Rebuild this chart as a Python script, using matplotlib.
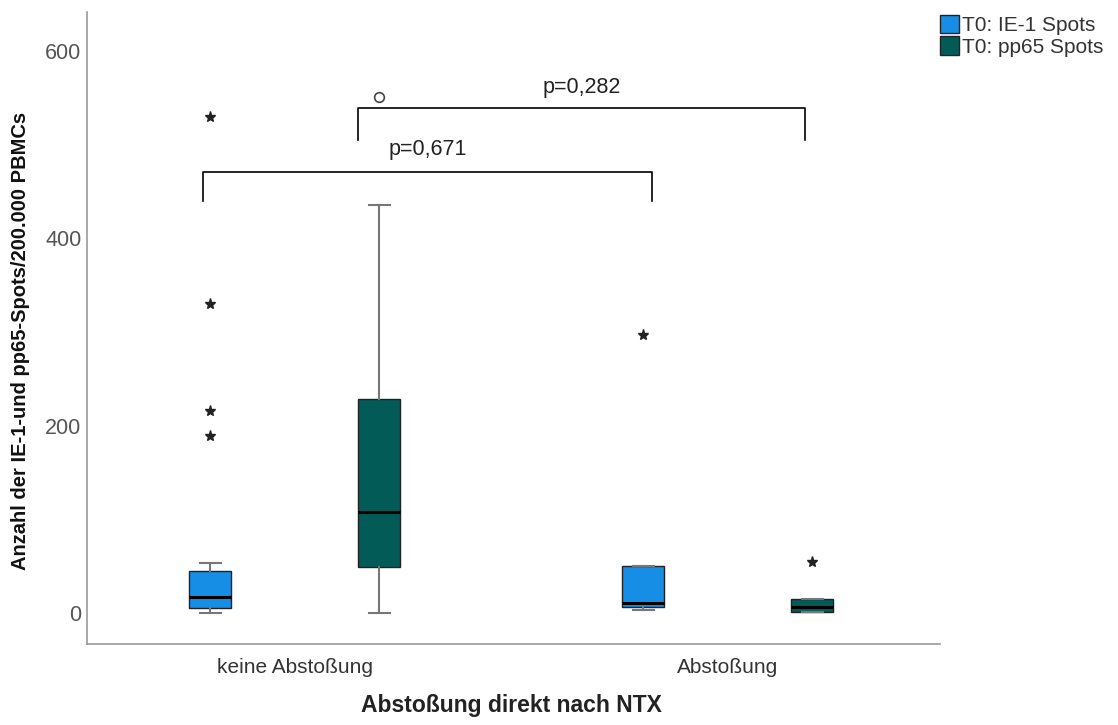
import matplotlib
matplotlib.use("Agg")
import matplotlib.pyplot as plt
from matplotlib.patches import Patch

plt.rcParams["font.family"] = ["Liberation Sans", "DejaVu Sans"]

groups = ["keine Abstoßung", "Abstoßung"]
series = ["T0: IE-1 Spots", "T0: pp65 Spots"]
colors = ["#178ee6", "#035b58"]

# box statistics per series, per group: [whislo, q1, med, q3, whishi]
ie1_stats = [[0, 5, 17, 45, 53], [3, 6, 11, 50, 50]]
pp65_stats = [[0, 49, 108, 228, 435], [1, 1, 6, 15, 15]]
# extreme outliers (stars) and outliers (circles)
ie1_stars = [[529, 330, 215, 189], [297]]
pp65_stars = [[], [54]]
ie1_circles = [[], []]
pp65_circles = [[551], []]

p_labels = ["p=0,671", "p=0,282"]
yticks = [0, 200, 400, 600]

fig = plt.figure(figsize=(11.18, 7.25), dpi=100)
ax = fig.add_axes([0.0778, 0.112, 0.763, 0.871])

offsets = [-0.195, 0.195]
width = 0.097
all_stats = [ie1_stats, pp65_stats]
all_stars = [ie1_stars, pp65_stars]
all_circles = [ie1_circles, pp65_circles]

for si in range(2):
    for gi in range(2):
        lo, q1, med, q3, hi = all_stats[si][gi]
        pos = gi + offsets[si]
        st = dict(whislo=lo, q1=q1, med=med, q3=q3, whishi=hi, fliers=[])
        ax.bxp([st], positions=[pos], widths=width, patch_artist=True,
               showfliers=False,
               boxprops=dict(facecolor=colors[si], edgecolor="#222222", linewidth=1.0),
               medianprops=dict(color="black", linewidth=2.2),
               whiskerprops=dict(color="#777777", linewidth=1.5),
               capprops=dict(color="#777777", linewidth=1.5),
               capwidths=width * 0.5)
        s = all_stars[si][gi]
        if s:
            ax.plot([pos] * len(s), s, linestyle="none", marker="*", markersize=8,
                    color="#222222")
        c = all_circles[si][gi]
        if c:
            ax.plot([pos] * len(c), c, linestyle="none", marker="o", markersize=7,
                    markerfacecolor="white", markeredgecolor="#444444", markeredgewidth=1.2)

# significance brackets
def bracket(x1, x2, y, h, text, ty):
    ax.plot([x1, x1, x2, x2], [y - h, y, y, y - h], color="black", linewidth=1.2)
    ax.text((x1 + x2) / 2, ty, text, ha="center", va="center", fontsize=15.5,
            color="#222222")

bracket(0 + offsets[0] - 0.016, 1 + offsets[0] + 0.02, 471, 31, p_labels[0], 495)
bracket(0 + offsets[1] - 0.048, 1 + offsets[1] - 0.017, 539, 34, p_labels[1], 561)

ax.set_xlim(-0.48, 1.49)
ax.set_ylim(-33, 641)
ax.set_xticks([0, 1])
ax.set_xticklabels(groups, fontsize=15, color="#333333")
ax.set_yticks(yticks)
ax.set_yticklabels([str(v) for v in yticks], fontsize=15.5, color="#555555")
ax.tick_params(length=0, pad=10)
ax.tick_params(axis="y", pad=4)
for sp in ["top", "right"]:
    ax.spines[sp].set_visible(False)
for sp in ["left", "bottom"]:
    ax.spines[sp].set_color("#999999")
    ax.spines[sp].set_linewidth(1.2)

ax.set_xlabel("Abstoßung direkt nach NTX", fontsize=16.5, fontweight="bold",
              color="#222222")
ax.xaxis.label.set_va("center")
ax.xaxis.set_label_coords(0.498, -0.098)
ax.set_ylabel("Anzahl der IE-1-und pp65-Spots/200.000 PBMCs", fontsize=14.5,
              fontweight="bold", color="#111111")
ax.yaxis.label.set_va("center")
ax.yaxis.set_label_coords(-0.0785, 0.48)

handles = [Patch(facecolor=colors[i], edgecolor="#222222", label=series[i]) for i in range(2)]
fig.legend(handles=handles, loc="upper right", bbox_to_anchor=(1.0, 1.0), frameon=False,
           fontsize=15, handlelength=0.9, handleheight=1.0, handletextpad=0.15,
           labelspacing=0.05, borderaxespad=0.3, labelcolor="#333333")

fig.savefig("out.png", dpi=100)
